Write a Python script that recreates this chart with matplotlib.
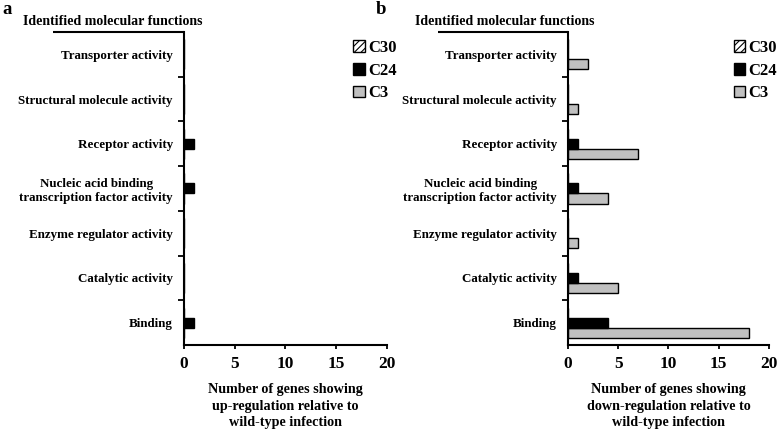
import matplotlib
matplotlib.use("Agg")
import matplotlib.pyplot as plt
import numpy as np
from matplotlib.patches import Patch

plt.rcParams["font.family"] = ["Liberation Serif", "DejaVu Serif"]
plt.rcParams["font.weight"] = "bold"
plt.rcParams["hatch.linewidth"] = 0.8

# categories, bottom to top
categories = [
    "Binding",
    "Catalytic activity",
    "Enzyme regulator activity",
    "Nucleic acid binding\ntranscription factor activity",
    "Receptor activity",
    "Structural molecule activity",
    "Transporter activity",
]

# up-regulated (panel a)
up_c3 = [0, 0, 0, 0, 0, 0, 0]
up_c24 = [1, 0, 0, 1, 1, 0, 0]
up_c30 = [0, 0, 0, 0, 0, 0, 0]

# down-regulated (panel b)
down_c3 = [18, 5, 1, 4, 7, 1, 2]
down_c24 = [4, 1, 0, 1, 1, 0, 0]
down_c30 = [0, 0, 0, 0, 0, 0, 0]

xlabels = [
    "Number of genes showing\nup-regulation relative to\nwild-type infection",
    "Number of genes showing\ndown-regulation relative to\nwild-type infection",
]

C3_COLOR = "#c0c0c0"
C24_COLOR = "#000000"


def draw_panel(ax, c3, c24, c30, xlabel):
    y = np.arange(len(categories))
    h = 0.224
    ax.barh(y - h, c3, height=h, color=C3_COLOR, edgecolor="black", linewidth=1.0)
    ax.barh(y, c24, height=h, color=C24_COLOR, edgecolor="black", linewidth=1.0)
    ax.barh(y + h, c30, height=h, color="white", edgecolor="black", hatch="/////", linewidth=1.0)

    ax.set_xlim(0, 20)
    ax.set_ylim(-0.5, len(categories) - 0.5)
    ax.set_xticks([0, 5, 10, 15, 20])
    ax.tick_params(axis="x", labelsize=12.5, length=3, width=1.3, pad=5)
    for lab in ax.get_xticklabels():
        lab.set_fontweight("bold")

    ax.set_yticks(y)
    ax.set_yticklabels(categories, fontsize=9.4, fontweight="bold", multialignment="center")
    ax.tick_params(axis="y", which="major", length=0, pad=8)
    ax.set_yticks(y[:-1] + 0.5, minor=True)
    ax.tick_params(axis="y", which="minor", length=4, width=1.3)

    ax.spines["top"].set_visible(False)
    ax.spines["right"].set_visible(False)
    ax.spines["left"].set_linewidth(1.5)
    ax.spines["bottom"].set_linewidth(1.5)
    # header line running left from the top of the category axis
    ax.plot([-0.645, 0], [1, 1], transform=ax.transAxes, color="black",
            linewidth=1.5, clip_on=False, solid_capstyle="butt")

    ax.set_xlabel(xlabel, fontsize=10.2, fontweight="bold", labelpad=8, linespacing=1.35)

    handles = [
        Patch(facecolor="white", edgecolor="black", hatch="/////", label="C30"),
        Patch(facecolor=C24_COLOR, edgecolor="black", label="C24"),
        Patch(facecolor=C3_COLOR, edgecolor="black", label="C3"),
    ]
    return handles


fig = plt.figure(figsize=(7.78, 4.30), dpi=100)
ax_a = fig.add_axes([0.2365, 0.1977, 0.2609, 0.7279])
ax_b = fig.add_axes([0.7301, 0.1977, 0.2583, 0.7279])

handles = draw_panel(ax_a, up_c3, up_c24, up_c30, xlabels[0])
draw_panel(ax_b, down_c3, down_c24, down_c30, xlabels[1])

for x0 in (0.454, 0.943):
    fig.legend(handles=handles, loc="upper left", bbox_to_anchor=(x0, 0.907),
               frameon=False, handlelength=0.7, handleheight=0.7,
               handletextpad=0.2, labelspacing=0.4, borderpad=0, borderaxespad=0,
               prop={"weight": "bold", "size": 12})

fig.text(0.1446, 0.951, "Identified molecular functions", ha="center", va="center",
         fontsize=10, fontweight="bold")
fig.text(0.649, 0.951, "Identified molecular functions", ha="center", va="center",
         fontsize=10, fontweight="bold")

fig.text(0.003, 0.977, "a", ha="left", va="center", fontsize=13.5, fontweight="bold")
fig.text(0.483, 0.977, "b", ha="left", va="center", fontsize=13.5, fontweight="bold")

fig.savefig("out.png", dpi=100)
